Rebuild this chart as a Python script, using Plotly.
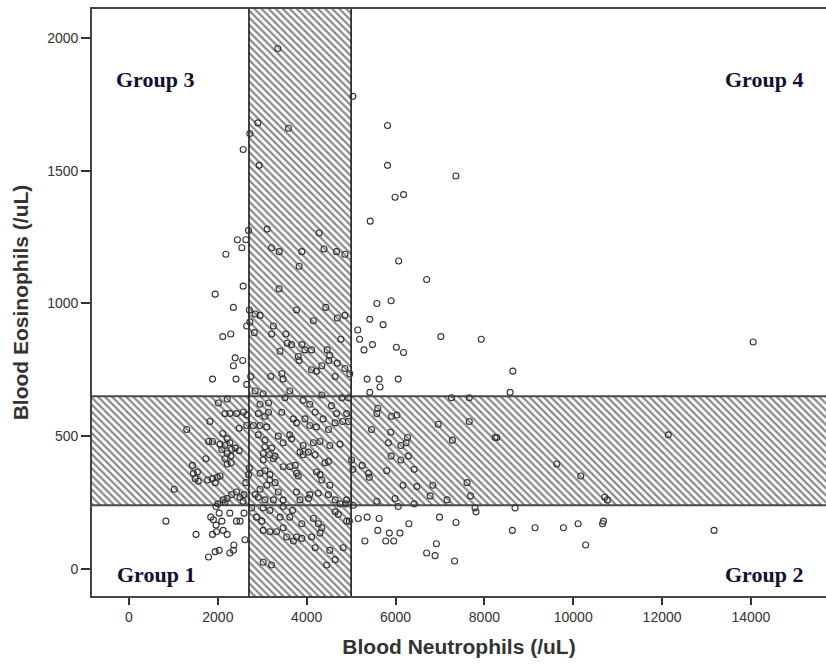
import plotly.graph_objects as go

# ---------------- data ----------------
neutrophils = [
    # upper region
    3350, 5040, 5820, 5820, 5990, 6180, 2900, 2720, 3590, 2570, 2930,
    7360, 5430, 6070, 6700, 5580, 5900, 5420, 5720, 5150, 5190, 5480, 5290,
    7020, 7930, 6020, 6180, 8640, 5360, 5630, 6060, 5650, 5420, 8580,
    # right, inside eosinophil band
    7260, 7660, 5600, 5580, 5910, 6030, 6960, 7660, 5460, 5890,
    5840, 6270, 6240, 6120, 7280, 8240, 8280, 5900, 6120, 6290,
    5250, 5390, 5410, 5800, 6420, 6170, 6480, 6840, 7610, 6780,
    7690, 5580, 5990, 7160, 6420, 6060, 7790, 7810, 8690,
    # right, below band
    5160, 5360, 5630, 6300, 6990, 7360, 5600, 5860, 6100, 8630, 9140,
    5310, 5780, 5960, 6920, 6700, 6890, 7330,
    # far right
    14050, 12140, 9630, 10170, 10710, 10770, 9780, 10110, 10660, 10680, 10280, 13170,
    # near right cut-off
    4860, 4770, 4860, 4970, 4940, 4900, 4810, 5010, 5040, 4880, 5050, 4960, 4820,
    # left upper
    2690, 2440, 2630, 2540, 2180, 2570, 1940, 2350, 2710, 2840, 2650,
    2720, 2820, 2110, 2290, 2390, 2560, 2350, 1880, 2410, 2650, 2740,
    # middle upper
    3110, 3210, 3380, 4280, 3890, 4390, 4670, 4860, 3830, 3380,
    3770, 4430, 4150, 4690, 2950, 3250, 3210, 3530, 3560, 3660,
    3400, 3890, 3960, 4110, 3810, 3830, 4460, 4520, 4500, 4690,
    4110, 4220, 4340, 3190, 3440, 3470, 4640,
    # left, inside band
    2010, 2210, 2160, 2270, 2420, 2570, 2650, 1300, 1820, 2480,
    2650, 2110, 2210, 1790, 1880, 2050, 2160, 2270, 2390, 2480,
    2090, 2210, 2310, 2160, 2290, 2210, 1730, 2300, 1430, 1540,
    1450, 1490, 1560, 1770, 1880, 1990, 2050, 1940, 1020, 2690,
    2710, 2630, 2420, 2310, 2210, 2500, 2590, 2120, 2160, 2000, 2570,
    # left, below band
    1960, 830, 1840, 1900, 2030, 2270, 2420, 2500, 2590, 1960,
    2090, 1970, 2120, 1510, 1880, 2210, 2610, 2360, 2350, 2270,
    2030, 1940, 1790,
    # middle, inside band
    2840, 3020, 3510, 3620, 3920, 4070, 4340, 4560, 4790, 2950,
    3140, 2910, 3060, 3140, 3440, 3700, 3960, 4190, 4370, 4670,
    4940, 2950, 3100, 2800, 3770, 4070, 4220, 4640, 4490, 2910,
    3060, 3360, 3620, 3660, 3470, 3920, 4150, 4300, 4520, 4750,
    3060, 3210, 3020, 3160, 3290, 3850, 3920, 4040, 4190, 4410,
    4490, 3020, 3250, 3470, 3620, 3740, 2950, 3060, 3170, 3770,
    3810, 4220, 4300, 4340, 3170, 3290, 3100, 2950, 4520, 3360,
    3770, 4070, 4260, 4490, 2840, 2910, 3060, 3250, 3470, 3850,
    4040, 4640, 4750, 4900,
    # middle, below band
    2760, 3020, 3170, 3470, 3680, 2870, 2990, 3400, 3620, 3890,
    4150, 4260, 4640, 4710, 4900, 3020, 3170, 3320, 3470, 3550,
    3770, 3890, 4110, 4300, 4340, 3700, 4190, 4520, 3020, 3210,
    4450, 4640,
]

eosinophils = [
    # upper region
    1960, 1780, 1670, 1520, 1400, 1410, 1680, 1640, 1660, 1580, 1520,
    1480, 1310, 1160, 1090, 1000, 1010, 940, 920, 900, 865, 845, 825,
    875, 865, 835, 815, 745, 715, 715, 715, 685, 665, 665,
    # right, inside eosinophil band
    645, 645, 605, 585, 575, 580, 545, 555, 525, 515,
    475, 495, 475, 465, 485, 495, 495, 425, 410, 425,
    390, 360, 345, 370, 375, 315, 310, 315, 325, 275,
    275, 255, 265, 260, 245, 235, 230, 215, 230,
    # right, below band
    190, 195, 190, 170, 195, 175, 145, 135, 135, 145, 155,
    105, 105, 105, 95, 60, 50, 30,
    # far right
    855, 505, 395, 350, 270, 260, 155, 170, 170, 180, 90, 145,
    # near right cut-off
    955, 865, 755, 735, 645, 585, 555, 410, 375, 245, 240, 180, 80,
    # left upper
    1275, 1240, 1240, 1210, 1185, 1065, 1035, 985, 975, 960, 915,
    930, 890, 875, 885, 795, 785, 765, 715, 715, 695, 725,
    # middle upper
    1280, 1210, 1195, 1265, 1195, 1205, 1195, 1185, 1140, 1055,
    975, 985, 935, 945, 955, 915, 885, 885, 850, 845,
    820, 845, 825, 825, 800, 785, 825, 805, 785, 775,
    750, 745, 765, 725, 735, 715, 725,
    # left, inside band
    625, 640, 585, 585, 585, 590, 580, 525, 555, 530,
    540, 510, 490, 480, 480, 470, 465, 475, 455, 445,
    450, 435, 450, 415, 425, 395, 415, 400, 390, 365,
    360, 340, 330, 335, 340, 345, 350, 325, 300, 355,
    380, 325, 290, 280, 265, 270, 280, 260, 250, 245, 255,
    # left, below band
    235, 180, 195, 185, 210, 210, 180, 180, 210, 165,
    180, 140, 145, 130, 130, 130, 110, 90, 70, 60,
    70, 65, 45,
    # middle, inside band
    670, 660, 645, 670, 635, 620, 655, 615, 645, 620,
    625, 585, 575, 590, 590, 565, 565, 590, 565, 585,
    555, 540, 535, 540, 550, 540, 535, 550, 525, 505,
    485, 500, 505, 490, 475, 465, 475, 480, 465, 470,
    460, 455, 435, 430, 425, 440, 430, 440, 430, 400,
    405, 410, 415, 385, 385, 390, 360, 370, 355, 360,
    350, 365, 355, 335, 335, 325, 315, 300, 315, 290,
    290, 280, 285, 280, 280, 270, 260, 260, 260, 260,
    265, 260, 245, 260,
    # middle, below band
    230, 230, 220, 235, 220, 195, 180, 195, 195, 170,
    190, 170, 215, 205, 180, 145, 140, 140, 155, 120,
    120, 115, 120, 135, 155, 105, 80, 70, 25, 15,
    15, 35,
]

neutrophil_cutoffs = [2700, 5000]     # hatched vertical band
eosinophil_cutoffs = [240, 650]       # hatched horizontal band
x_ticks = [0, 2000, 4000, 6000, 8000, 10000, 12000, 14000]
x_tick_labels = ["0", "2000", "4000", "6000", "8000", "10000", "12000", "14000"]
y_ticks = [0, 500, 1000, 1500, 2000]
y_tick_labels = ["0", "500", "1000", "1500", "2000"]
x_range = [-833, 15690]
y_range = [-102, 2109]

group_labels = ["Group 3", "Group 4", "Group 1", "Group 2"]
group_label_x = [590, 14290, 610, 14290]
group_label_y = [1842, 1842, -22, -22]

# ---------------- figure ----------------
pattern = dict(shape="\\", size=5, solidity=0.45, fgcolor="#111111", bgcolor="white")

fig = go.Figure()

# horizontal band (eosinophils)
e0, e1 = eosinophil_cutoffs
fig.add_trace(go.Scatter(
    x=[x_range[0], x_range[1], x_range[1], x_range[0], x_range[0]],
    y=[e0, e0, e1, e1, e0],
    mode="lines", fill="toself", fillcolor="white", fillpattern=pattern,
    line=dict(width=0), hoverinfo="skip", showlegend=False))

# vertical band (neutrophils)
n0, n1 = neutrophil_cutoffs
fig.add_trace(go.Scatter(
    x=[n0, n1, n1, n0, n0],
    y=[y_range[0], y_range[0], y_range[1], y_range[1], y_range[0]],
    mode="lines", fill="toself", fillcolor="white", fillpattern=pattern,
    line=dict(width=0), hoverinfo="skip", showlegend=False))

# band borders
fig.add_trace(go.Scatter(
    x=[x_range[0], x_range[1], None, x_range[0], x_range[1]],
    y=[e0, e0, None, e1, e1],
    mode="lines", line=dict(color="#4a4a4a", width=2),
    hoverinfo="skip", showlegend=False))
fig.add_trace(go.Scatter(
    x=[n0, n0, None, n1, n1],
    y=[y_range[0], y_range[1], None, y_range[0], y_range[1]],
    mode="lines", line=dict(color="#111111", width=1.5),
    hoverinfo="skip", showlegend=False))

# data points
fig.add_trace(go.Scatter(
    x=neutrophils, y=eosinophils, mode="markers",
    marker=dict(symbol="circle-open", size=6, color="#333333",
                line=dict(width=1.1, color="#333333")),
    showlegend=False))

for txt, gx, gy in zip(group_labels, group_label_x, group_label_y):
    fig.add_annotation(
        x=gx, y=gy, xref="x", yref="y", text=txt, showarrow=False,
        xanchor="center", yanchor="middle",
        font=dict(family="Liberation Serif, Times New Roman, serif",
                  size=22, color="#101030", weight="bold"))

axis_font = dict(family="Liberation Sans, Arial, sans-serif", size=14, color="#333333")
title_font = dict(family="Liberation Sans, Arial, sans-serif", size=21,
                  color="#333333", weight="bold")

fig.update_layout(
    width=826, height=666,
    margin=dict(l=92, r=0, t=9, b=70, autoexpand=False),
    paper_bgcolor="white", plot_bgcolor="white",
    xaxis=dict(range=x_range, tickvals=x_ticks, ticktext=x_tick_labels,
               ticks="outside", ticklen=7, automargin=False,
               tickwidth=1.5, tickcolor="#333333", showline=True,
               linecolor="#444444", linewidth=1.8, mirror=True,
               showgrid=False, zeroline=False, tickfont=axis_font,
               title=dict(text="Blood Neutrophils (/uL)", font=title_font, standoff=16)),
    yaxis=dict(range=y_range, tickvals=y_ticks, ticktext=y_tick_labels,
               ticks="outside", ticklen=9, automargin=False,
               tickwidth=1.5, tickcolor="#333333", showline=True,
               linecolor="#444444", linewidth=1.8, mirror=False,
               showgrid=False, zeroline=False, tickfont=axis_font,
               title=dict(text="Blood Eosinophils (/uL)", font=title_font, standoff=13)),
)

# page body has a default 8px margin; remove it so the figure fills the window
fig.write_html("out.html", config={"displayModeBar": False},
               post_script="document.body.style.margin='0px';")
